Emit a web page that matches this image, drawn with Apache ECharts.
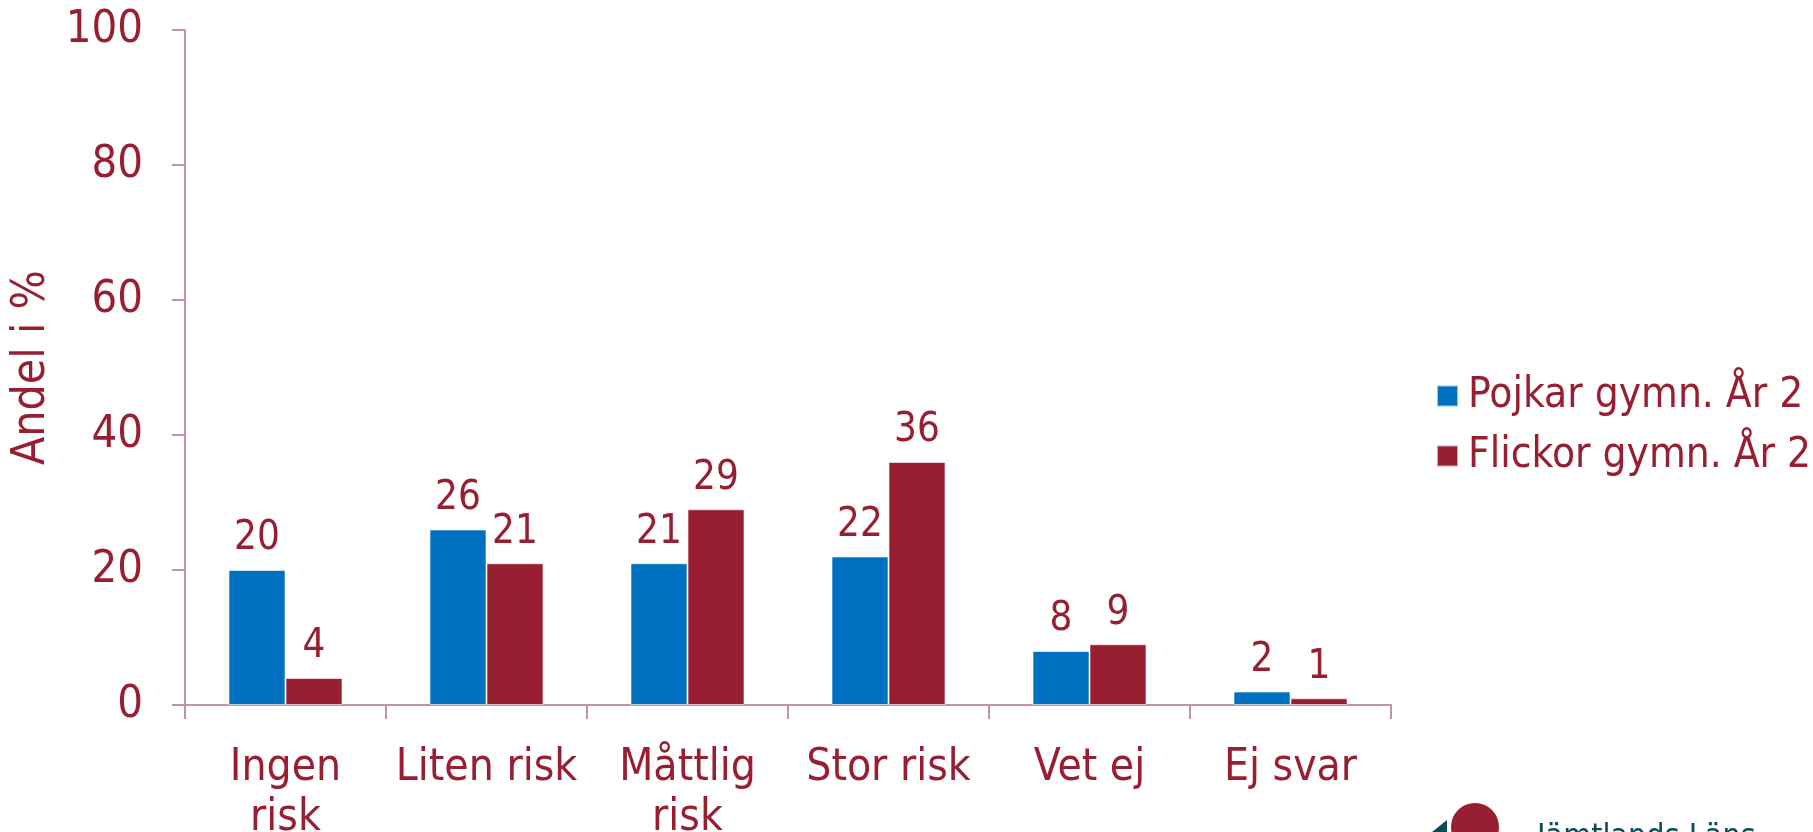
<!DOCTYPE html>
<html>
<head>
<meta charset="utf-8">
<script src="https://cdn.jsdelivr.net/npm/echarts@6/dist/echarts.min.js"></script>
<style>
  html, body { margin: 0; padding: 0; background: #fff; }
  #chart { width: 1813px; height: 832px; }
</style>
</head>
<body>
<div id="chart"></div>
<script>
var categories = ['Ingen\nrisk', 'Liten risk', 'Måttlig\nrisk', 'Stor risk', 'Vet ej', 'Ej svar'];
var boys = [20, 26, 21, 22, 8, 2];
var girls = [4, 21, 29, 36, 9, 1];
var seriesNames = ['Pojkar gymn. År 2', 'Flickor gymn. År 2'];

var red = '#981F32';
var blue = '#0070C0';
var axisColor = '#C4939B';
var font = '"DejaVu Sans Condensed", "DejaVu Sans", sans-serif';

var chart = echarts.init(document.getElementById('chart'));

function barSeries(name, data, color) {
    return {
        name: name,
        type: 'bar',
        data: data,
        barWidth: 57,
        barGap: '0%',
        itemStyle: { color: color, borderColor: 'rgba(255,255,255,0.6)', borderWidth: 1 },
        label: {
            show: true,
            position: 'top',
            distance: 11,
            color: red,
            fontSize: 40,
            fontFamily: font
        }
    };
}

chart.setOption({
    animation: false,
    backgroundColor: '#fff',
    grid: { left: 185, top: 30, right: 422, bottom: 127, containLabel: false, outerBoundsMode: 'none' },
    legend: {
        orient: 'vertical',
        left: 1431,
        top: 370,
        itemWidth: 21,
        itemHeight: 21,
        itemGap: 18,
        icon: 'rect',
        textStyle: { color: red, fontSize: 42, fontFamily: font, padding: [0, 0, 0, 5] },
        data: seriesNames
    },
    xAxis: {
        type: 'category',
        data: categories,
        axisLine: { lineStyle: { color: axisColor, width: 2 } },
        axisTick: { show: true, length: 14, lineStyle: { color: axisColor, width: 2 } },
        axisLabel: {
            color: red,
            fontSize: 44,
            fontFamily: font,
            lineHeight: 50,
            margin: 39,
            interval: 0
        }
    },
    yAxis: {
        type: 'value',
        min: 0,
        max: 100,
        interval: 20,
        name: 'Andel i %',
        nameLocation: 'middle',
        nameGap: 122,
        nameTextStyle: { color: red, fontSize: 46, fontFamily: font },
        axisLine: { show: true, lineStyle: { color: axisColor, width: 2 } },
        axisTick: { show: true, length: 13, lineStyle: { color: axisColor, width: 2 } },
        splitLine: { show: false },
        axisLabel: { color: red, fontSize: 45, fontFamily: font, margin: 42 }
    },
    series: [
        barSeries(seriesNames[0], boys, blue),
        barSeries(seriesNames[1], girls, red)
    ],
    graphic: [
        { type: 'polygon', shape: { points: [[1432, 832], [1447, 820], [1447, 832]] }, style: { fill: '#0E4A57' } },
        { type: 'circle', shape: { cx: 1475, cy: 827, r: 24 }, style: { fill: red } },
        { type: 'text', left: 1537, top: 822, style: { text: 'Jämtlands Läns', fill: '#0E4A57', font: '32px ' + font } }
    ]
});
</script>
</body>
</html>
